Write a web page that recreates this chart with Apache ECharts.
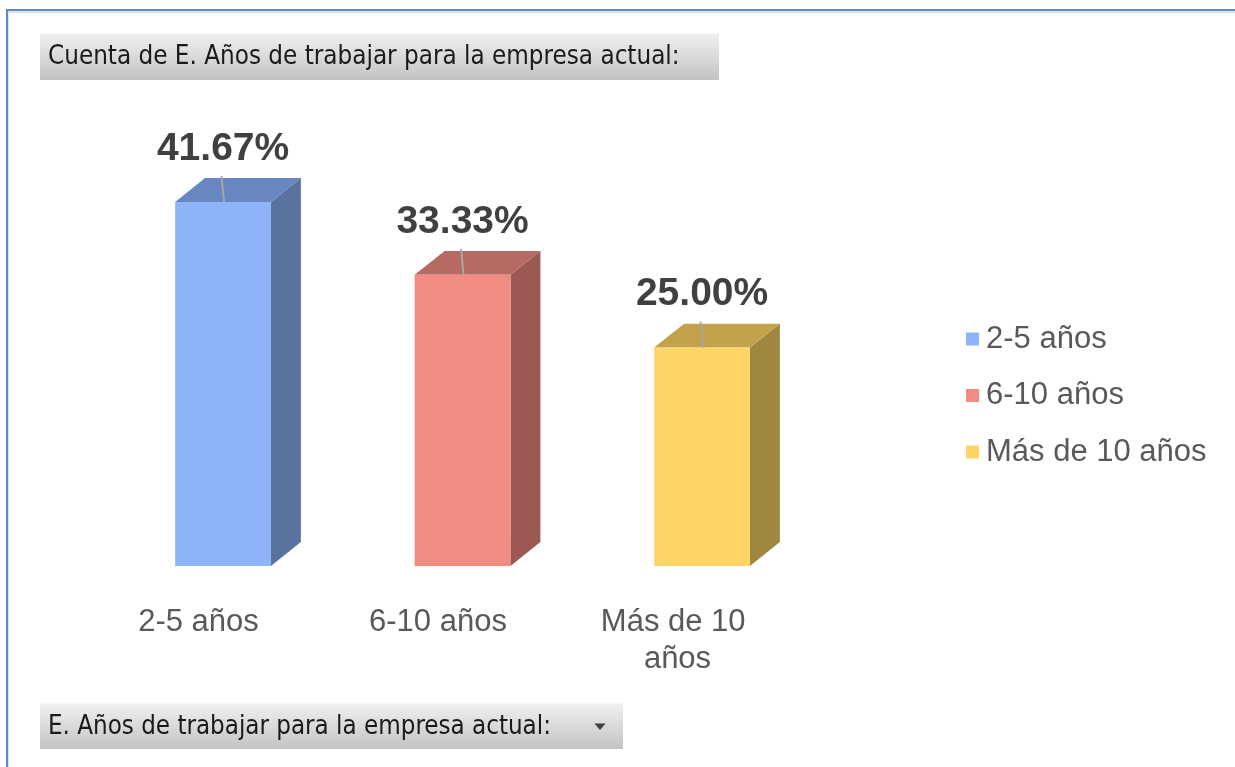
<!DOCTYPE html>
<html>
<head>
<meta charset="utf-8">
<script src="https://cdn.jsdelivr.net/npm/echarts@6/dist/echarts.min.js"></script>
<style>
  html, body { margin: 0; padding: 0; background: #ffffff; }
  #chart { width: 1235px; height: 767px; }
</style>
</head>
<body>
<div id="chart"></div>
<script>
// ---- data ----
const categories = ['2-5 años', '6-10 años', 'Más de 10 años'];
const values = [41.67, 33.33, 25.00];
const titleText = 'Cuenta de E. Años de trabajar para la empresa actual:';
const fieldText = 'E. Años de trabajar para la empresa actual:';

// ---- styles ----
const frontColors = ['#8db4f8', '#f28b82', '#fdd466'];
const topColors   = ['#6887c2', '#b76a63', '#c4a24c'];
const sideColors  = ['#5a729e', '#9a5954', '#a0873f'];
const SANS = '"Liberation Sans", Arial, sans-serif';

// pick a condensed family for the pivot buttons and fit its size to the reference width
function pickFont(text, targetWidth) {
  const c = document.createElement('canvas').getContext('2d');
  const cands = ['"Liberation Sans Narrow"', '"DejaVu Sans Condensed"', '"Liberation Sans"'];
  c.font = '100px monospace';
  const mono = c.measureText(text).width;
  let fam = '"Liberation Sans"';
  for (const f of cands) {
    c.font = '100px ' + f + ', monospace';
    if (Math.abs(c.measureText(text).width - mono) > 0.5) { fam = f; break; }
  }
  c.font = '100px ' + fam;
  const w = c.measureText(text).width;
  return { family: fam, size: targetWidth * 100 / w };
}
const tFont = pickFont(titleText, 632);
const fFont = pickFont(fieldText, 503);

function makeRender(i) {
  return function (params, api) {
    const base = api.coord([api.value(0), 0]);
    const top = api.coord([api.value(0), api.value(1)]);
    const bw = api.size([1, 0])[0];
    const w = bw * 0.40, dx = bw * 0.125, dy = bw * 0.10, off = bw * 0.1025;
    const cx = base[0] + off;
    const x0 = cx - w / 2, x1 = cx + w / 2;
    const yb = base[1], yt = top[1];
    return {
      type: 'group',
      children: [
        { type: 'polygon', shape: { points: [[x1, yt], [x1 + dx, yt - dy], [x1 + dx, yb - dy], [x1, yb]] },
          style: { fill: sideColors[i] } },
        { type: 'polygon', shape: { points: [[x0, yt], [x0 + dx, yt - dy], [x1 + dx, yt - dy], [x1, yt]] },
          style: { fill: topColors[i] } },
        { type: 'rect', shape: { x: x0, y: yt, width: w, height: yb - yt },
          style: { fill: frontColors[i] } },
        { type: 'line', shape: { x1: cx - 1.5, y1: yt - dy - 2, x2: cx + 1, y2: yt },
          style: { stroke: '#a6a6a6', lineWidth: 2 } },
        { type: 'text', x: cx, y: yt - 53,
          style: { text: api.value(1).toFixed(2) + '%', align: 'center', verticalAlign: 'middle',
                   font: 'bold 39px ' + SANS, fill: '#404040' } }
      ]
    };
  };
}

const chart = echarts.init(document.getElementById('chart'), null, { renderer: 'canvas' });

const btnFill = { type: 'linear', x: 0, y: 0, x2: 0, y2: 1,
  colorStops: [{ offset: 0, color: '#f1f1f1' }, { offset: 1, color: '#c3c3c3' }] };

chart.setOption({
  backgroundColor: '#ffffff',
  animation: false,
  grid: { left: 78.75, right: 437.75, top: 129.23, bottom: 201 },
  xAxis: {
    type: 'category',
    data: categories,
    axisLine: { show: false },
    axisTick: { show: false },
    axisLabel: {
      interval: 0, margin: 38, fontSize: 31, lineHeight: 37, color: '#595959',
      fontFamily: SANS, width: 170, overflow: 'break'
    }
  },
  yAxis: { type: 'value', min: 0, max: 50, show: false },
  legend: {
    orient: 'vertical', left: 966, top: 321, padding: 0,
    icon: 'rect', itemWidth: 13, itemHeight: 13, itemGap: 20.5,
    textStyle: { fontSize: 31, lineHeight: 36, color: '#595959', fontFamily: SANS, padding: [0, 0, 0, 2] },
    data: categories.map((n, i) => ({ name: n, itemStyle: { color: frontColors[i] } }))
  },
  series: categories.map((name, i) => ({
    type: 'custom', name: name, clip: false,
    data: [[i, values[i]]],
    encode: { x: 0, y: 1 },
    itemStyle: { color: frontColors[i] },
    renderItem: makeRender(i)
  })),
  graphic: [
    { type: 'rect', shape: { x: 6, y: 9, width: 1229, height: 2 }, style: { fill: '#5b8bd0' }, silent: true },
    { type: 'rect', shape: { x: 8, y: 11, width: 1227, height: 2 }, style: { fill: '#e3e3e3' }, silent: true },
    { type: 'rect', shape: { x: 6, y: 9, width: 2, height: 758 }, style: { fill: '#5b8bd0' }, silent: true },
    { type: 'rect', shape: { x: 8, y: 11, width: 1, height: 756 }, style: { fill: '#e3e3e3' }, silent: true },

    { type: 'rect', shape: { x: 40, y: 33, width: 679, height: 47 }, style: { fill: btnFill }, silent: true },
    { type: 'rect', shape: { x: 40, y: 33, width: 679, height: 1 }, style: { fill: '#f7f7f7' }, silent: true },
    { type: 'text', x: 48, y: 57, silent: true,
      style: { text: titleText, verticalAlign: 'middle', fill: '#1a1a1a',
               font: tFont.size.toFixed(2) + 'px ' + tFont.family } },

    { type: 'rect', shape: { x: 40, y: 703, width: 583, height: 46 }, style: { fill: btnFill }, silent: true },
    { type: 'rect', shape: { x: 40, y: 703, width: 583, height: 1 }, style: { fill: '#f7f7f7' }, silent: true },
    { type: 'text', x: 48, y: 727, silent: true,
      style: { text: fieldText, verticalAlign: 'middle', fill: '#1a1a1a',
               font: fFont.size.toFixed(2) + 'px ' + fFont.family } },
    { type: 'polygon', shape: { points: [[594.5, 723.5], [605.5, 723.5], [600, 730]] }, style: { fill: '#404040' }, silent: true }
  ]
});
</script>
</body>
</html>
